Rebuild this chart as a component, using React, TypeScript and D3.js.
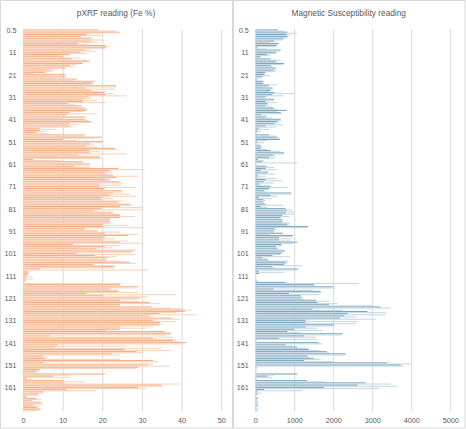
import * as d3 from "d3";

const categories: string[] = Array.from({ length: 171 }, (_, i) => (i === 0 ? "0.5" : String(i + 1)));
const yTickLabels = ["0.5", "11", "21", "31", "41", "51", "61", "71", "81", "91", "101", "111", "121", "131", "141", "151", "161"];

const feTicks = [0, 10, 20, 30, 40, 50];
const msTicks = [0, 1000, 2000, 3000, 4000, 5000];

// pXRF Fe %, two readings per depth
const feDark = [
  19.0, 24.3, 15.9, 14.5, 17.1, 17.1, 13.8, 20.8, 20.8, 15.5,
  14.2, 11.7, 10.0, 12.1, 16.7, 15.0, 11.7, 10.6, 6.6, 5.5,
  10.6, 10.6, 13.4, 18.0, 17.5, 23.4, 15.9, 17.1, 20.5, 20.8,
  16.5, 14.9, 15.0, 11.3, 14.6, 15.5, 15.9, 11.7, 11.0, 15.5,
  15.5, 17.1, 11.7, 11.7, 4.1, 4.1, 3.3, 15.5, 19.7, 10.0,
  20.1, 16.7, 15.9, 23.0, 16.7, 16.7, 13.8, 19.2, 2.4, 15.0,
  16.7, 12.9, 23.9, 21.8, 20.5, 22.6, 23.4, 21.8, 24.3, 19.2,
  19.2, 20.5, 24.7, 22.6, 21.8, 19.6, 19.7, 23.9, 26.8, 24.3,
  19.7, 17.6, 22.6, 24.3, 24.3, 21.8, 21.8, 20.1, 20.1, 15.5,
  18.8, 20.5, 26.4, 20.1, 20.1, 24.3, 12.5, 20.5, 18.4, 27.6,
  13.4, 18.0, 21.3, 20.9, 26.8, 17.6, 22.6, 4.1, 1.2, 1.2,
  0.8, 0.8, 0.6, 0.2, 24.3, 28.9, 21.8, 23.9, 15.9, 20.1,
  29.3, 24.3, 31.8, 24.3, 32.3, 40.3, 40.7, 34.4, 31.8, 37.3,
  32.7, 34.4, 34.4, 24.3, 24.3, 35.6, 37.3, 6.6, 32.7, 37.7,
  41.1, 8.7, 7.9, 25.5, 28.5, 22.2, 5.0, 5.4, 32.7, 5.0,
  31.4, 28.9, 4.1, 3.3, 20.5, 7.5, 0.8, 10.0, 10.4, 34.8,
  28.9, 10.8, 5.0, 3.7, 0.8, 3.3, 2.0, 4.8, 2.4, 3.3,
  4.1,
];
const feLight = [
  23.2, 19.5, 19.8, 17.4, 20.6, 18.7, 16.0, 21.8, 17.1, 18.4,
  16.0, 9.2, 14.2, 15.9, 14.6, 13.4, 12.9, 8.5, 7.5, 2.4,
  5.8, 7.5, 12.5, 17.4, 16.7, 23.4, 23.0, 19.2, 22.6, 26.0,
  17.1, 18.7, 20.9, 12.9, 13.8, 16.3, 15.0, 18.4, 9.2, 9.6,
  16.3, 16.7, 14.2, 12.5, 8.3, 5.8, 6.6, 15.5, 17.6, 13.4,
  20.1, 18.0, 18.8, 23.9, 19.2, 26.0, 19.2, 20.1, 9.2, 15.0,
  16.7, 16.7, 30.6, 22.6, 21.3, 28.9, 20.5, 20.9, 25.1, 24.7,
  28.5, 20.1, 25.1, 26.8, 28.5, 22.6, 25.1, 24.3, 27.6, 30.2,
  30.2, 22.1, 24.3, 28.1, 21.8, 22.0, 22.6, 26.4, 30.2, 15.5,
  24.3, 28.9, 20.9, 23.0, 26.4, 29.7, 24.3, 22.6, 28.5, 27.2,
  28.1, 23.4, 18.8, 24.7, 28.5, 23.4, 23.0, 31.4, 1.4, 1.2,
  2.0, 2.4, 0.4, 24.7, 24.3, 28.1, 24.3, 28.9, 38.6, 31.4,
  28.5, 28.9, 34.4, 24.3, 37.3, 42.4, 38.6, 43.6, 32.7, 39.4,
  38.6, 35.2, 32.7, 31.0, 20.9, 36.9, 36.1, 37.7, 38.6, 39.4,
  40.3, 26.0, 34.8, 37.3, 30.2, 24.3, 6.2, 24.3, 34.0, 32.7,
  36.9, 28.5, 4.1, 3.3, 11.7, 11.7, 2.0, 15.5, 39.4, 35.2,
  31.0, 18.4, 5.0, 3.9, 0.8, 4.5, 4.1, 4.5, 4.1, 4.5,
  3.3,
];

// magnetic susceptibility, two readings per depth
const msDark = [
  573, 812, 787, 812, 710, 470, 599, 539, 43, 641,
  513, 299, 128, 385, 513, 727, 385, 513, 470, 256,
  231, 171, 26, 197, 197, 342, 428, 385, 487, 428,
  256, 470, 256, 299, 256, 470, 795, 641, 145, 256,
  641, 556, 487, 256, 86, 43, 20, 342, 556, 624,
  43, 20, 145, 128, 385, 727, 453, 342, 60, 171,
  10, 282, 256, 128, 299, 60, 43, 256, 214, 86,
  385, 342, 214, 915, 385, 86, 197, 197, 256, 128,
  770, 795, 770, 684, 641, 684, 684, 812, 1342, 487,
  470, 701, 958, 599, 599, 1069, 658, 513, 556, 744,
  658, 428, 171, 316, 770, 727, 428, 1086, 86, 86,
  0, 0, 26, 770, 1497, 1984, 460, 1667, 855, 1154,
  1180, 1540, 1582, 1881, 3206, 1454, 2864, 2351, 2266, 2163,
  1283, 1283, 2009, 1283, 983, 812, 2223, 1240, 599, 20,
  1625, 770, 1069, 1368, 1821, 2308, 1325, 1497, 1240, 3377,
  3719, 26, 0, 0, 1069, 299, 0, 1325, 2821, 2608,
  1753, 214, 43, 43, 0, 43, 26, 26, 43, 0,
  26,
];
const msLight = [
  727, 1069, 880, 812, 684, 342, 556, 487, 299, 624,
  556, 368, 120, 641, 556, 710, 428, 539, 513, 214,
  368, 128, 43, 171, 539, 256, 453, 342, 983, 710,
  214, 470, 539, 342, 428, 556, 556, 684, 299, 428,
  658, 599, 710, 513, 342, 128, 40, 513, 599, 299,
  214, 128, 171, 299, 641, 744, 513, 470, 214, 1069,
  20, 470, 556, 342, 513, 256, 539, 684, 470, 128,
  812, 342, 299, 915, 556, 428, 256, 214, 710, 299,
  940, 1000, 983, 860, 599, 727, 880, 855, 1326, 556,
  470, 342, 940, 897, 915, 966, 684, 556, 710, 710,
  624, 880, 299, 829, 812, 1197, 470, 1069, 727, 20,
  0, 0, 43, 2650, 1497, 2052, 1454, 1667, 1625, 1197,
  1240, 1907, 2095, 2993, 3463, 2222, 3335, 3335, 2565, 3078,
  2608, 2565, 2009, 1582, 1710, 1154, 2197, 1539, 1582, 0,
  1710, 940, 1325, 1625, 1881, 2283, 1368, 1667, 2009, 3976,
  3805, 43, 43, 0, 470, 428, 60, 1753, 3463, 3634,
  3163, 1197, 128, 43, 86, 43, 86, 60, 86, 43,
  60,
];

const W = 466;
const H = 429;
const plotTop = 29.4;
const plotBottom = 411.4;
const font = "'Liberation Sans', Arial, sans-serif";
const textColor = "#595959";
const gridColor = "#D9D9D9";

interface PanelProps {
  x0: number;
  width: number;
  title: string;
  rangeX: [number, number];
  ticks: number[];
  dark: number[];
  light: number[];
  darkColor: string;
  lightColor: string;
}

function Panel({ x0, width, title, rangeX, ticks, dark, light, darkColor, lightColor }: PanelProps) {
  const xScale = d3.scaleLinear().domain([ticks[0], ticks[ticks.length - 1]]).range(rangeX);
  const yScale = d3.scaleBand<string>().domain(categories).range([plotTop, plotBottom]).padding(0);
  const sub = d3.scaleBand<string>().domain(["dark", "light"]).range([0, yScale.bandwidth()]).padding(0);

  return (
    <g>
      <rect x={x0 + 0.5} y={0.5} width={width} height={H - 1.5} fill="#fff" stroke={gridColor} />
      <text
        x={x0 + width / 2}
        y={15.5}
        textAnchor="middle"
        fontFamily={font}
        fontSize={8.3}
        fill={textColor}
      >
        {title}
      </text>
      {ticks.map((t) => (
        <line
          key={"g" + t}
          x1={xScale(t)}
          x2={xScale(t)}
          y1={plotTop}
          y2={plotBottom}
          stroke={gridColor}
          strokeWidth={1}
        />
      ))}
      {categories.map((c, i) => (
        <g key={c}>
          <rect
            x={xScale(0)}
            y={(yScale(c) ?? 0) + (sub("dark") ?? 0)}
            width={Math.max(0, xScale(dark[i]) - xScale(0))}
            height={sub.bandwidth()}
            fill={darkColor}
          />
          <rect
            x={xScale(0)}
            y={(yScale(c) ?? 0) + (sub("light") ?? 0)}
            width={Math.max(0, xScale(light[i]) - xScale(0))}
            height={sub.bandwidth()}
            fill={lightColor}
          />
        </g>
      ))}
      {yTickLabels.map((lab) => (
        <text
          key={"y" + lab}
          x={rangeX[0] - 7}
          y={(yScale(lab) ?? 0) + yScale.bandwidth() / 2}
          dy="0.35em"
          textAnchor="end"
          fontFamily={font}
          fontSize={7.2}
          fill={textColor}
        >
          {lab}
        </text>
      ))}
      {ticks.map((t) => (
        <text
          key={"x" + t}
          x={xScale(t)}
          y={422.5}
          textAnchor="middle"
          fontFamily={font}
          fontSize={7.2}
          fill={textColor}
        >
          {t}
        </text>
      ))}
    </g>
  );
}

export default function App() {
  return (
    <svg
      width={W}
      height={H}
      style={{ position: "absolute", left: 0, top: 0, background: "#fff" }}
    >
      <Panel
        x0={0}
        width={232}
        title="pXRF reading (Fe %)"
        rangeX={[23.5, 221.7]}
        ticks={feTicks}
        dark={feDark}
        light={feLight}
        darkColor="#F5AE86"
        lightColor="#F9D5BE"
      />
      <Panel
        x0={233}
        width={231.5}
        title="Magnetic Susceptibility reading"
        rangeX={[255.7, 450.7]}
        ticks={msTicks}
        dark={msDark}
        light={msLight}
        darkColor="#80A8BF"
        lightColor="#C6D9E4"
      />
    </svg>
  );
}
